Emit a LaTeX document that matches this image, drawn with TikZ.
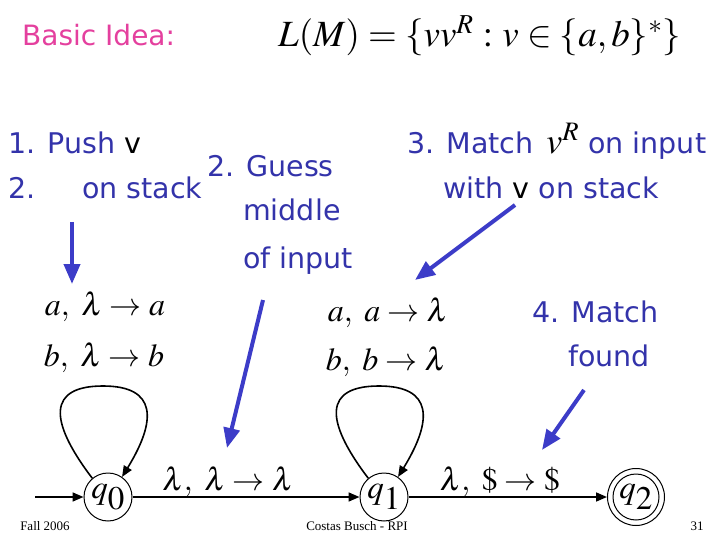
\documentclass[tikz,border=0pt]{standalone}
\usepackage{mathptmx}
\usepackage{fontspec}
\setmainfont{Liberation Serif}
\newfontfamily\hand{DejaVu Sans}
\usetikzlibrary{arrows.meta}
\definecolor{ink}{RGB}{51,51,170}
\definecolor{pinkc}{RGB}{228,64,158}
\definecolor{arr}{RGB}{60,60,200}
\begin{document}
\begin{tikzpicture}[x=1pt,y=-1pt,
  note/.style={anchor=base west, text=ink, font=\hand\fontsize{28.5}{32}\selectfont, inner sep=0},
  lbl/.style={font=\fontsize{32}{32}\selectfont, inner sep=0},
  foot/.style={font=\fontsize{13}{15}\selectfont, inner sep=0, anchor=base},
  state/.style={circle, draw, line width=1pt, minimum size=48pt, inner sep=0},
  pointer/.style={draw=arr, line width=4pt, -{Triangle[length=20pt,width=16pt]}},
  trans/.style={draw, line width=1.6pt, -{Triangle[length=11pt,width=9pt]}}]
\useasboundingbox (0,0) rectangle (720,540);
% titles
\node[anchor=base west, inner sep=0, text=pinkc, font=\hand\fontsize{28}{32}\selectfont] (title) at (22,46) {Basic Idea:};
\node[anchor=base west, inner sep=0, font=\fontsize{37}{37}\selectfont] (lang) at (278,47) {$L(M)=\{vv^R\ {:}\ v\in\{a,b\}^*\}$};
% notes
\node[note] (n1) at (8,154) {1. Push {\color{black}v}};
\node[note] (n2) at (8,199) {2.};
\node[note] (n2b) at (82,199) {on stack};
\node[note] (g1) at (207,177) {2. Guess};
\node[note] (g2) at (243,221) {middle};
\node[note] (g3) at (243,268) {of input};
\node[note] (m1) at (407,154) {3. Match {\normalfont\color{black}\fontsize{36}{36}\selectfont$\,v^R$} on input};
\node[note] (m2) at (443,199) {with {\color{black}v} on stack};
\node[note] (f1) at (532,322) {4. Match};
\node[note] (f2) at (568,366) {found};
% states
\node[state] (q0) at (108,497) {};
\node[state] (q1) at (384,497) {};
\node[state, minimum size=57pt] (q2) at (636,497) {};
\node[circle, draw, line width=1pt, minimum size=46pt, inner sep=0] (q2in) at (q2) {};
\node[lbl, font=\fontsize{33}{33}\selectfont] (t0) at (q0) {$q_{\textstyle 0}$};
\node[lbl, font=\fontsize{33}{33}\selectfont] (t1) at (q1) {$q_{\textstyle 1}$};
\node[lbl, font=\fontsize{33}{33}\selectfont] (t2) at (q2) {$q_{\textstyle 2}$};
% transitions
\coordinate (start) at (35,497);
\draw[trans] (start) -- (q0);
\draw[trans] (q0) -- (q1);
\draw[trans] (q1) -- (q2);
\draw[trans] (q0.130) .. controls (48,420) and (48,386) .. (103,386) .. controls (157,386) and (157,420) .. (q0.55);
\draw[trans] (q1.130) .. controls (324,420) and (324,386) .. (379,386) .. controls (433,386) and (433,420) .. (q1.55);
% labels
\node[lbl] (la) at (105,307) {$a,\ \lambda\to a$};
\node[lbl] (lb) at (104,358) {$b,\ \lambda\to b$};
\node[lbl] (lc) at (388,313) {$a,\ a\to \lambda$};
\node[lbl] (ld) at (386,362) {$b,\ b\to \lambda$};
\node[lbl, anchor=base] (le) at (228,490) {$\lambda,\ \lambda\to\lambda$};
\node[lbl, anchor=base] (lf) at (500,490) {$\lambda,\ \$\to\$$};
% pointers
\coordinate (p1s) at (72,222); \coordinate (p1e) at (72,284);
\coordinate (p2s) at (263,300); \coordinate (p2e) at (227,448);
\coordinate (p3s) at (515,205); \coordinate (p3e) at (415,280);
\coordinate (p4s) at (584,390); \coordinate (p4e) at (542,450);
\draw[pointer] (p1s) -- (p1e);
\draw[pointer] (p2s) -- (p2e);
\draw[pointer] (p3s) -- (p3e);
\draw[pointer] (p4s) -- (p4e);
% footer
\node[foot] (fa) at (45,530) {Fall 2006};
\node[foot] (fb) at (357,530) {Costas Busch - RPI};
\node[foot] (fc) at (697,530) {31};
\end{tikzpicture}
\end{document}
